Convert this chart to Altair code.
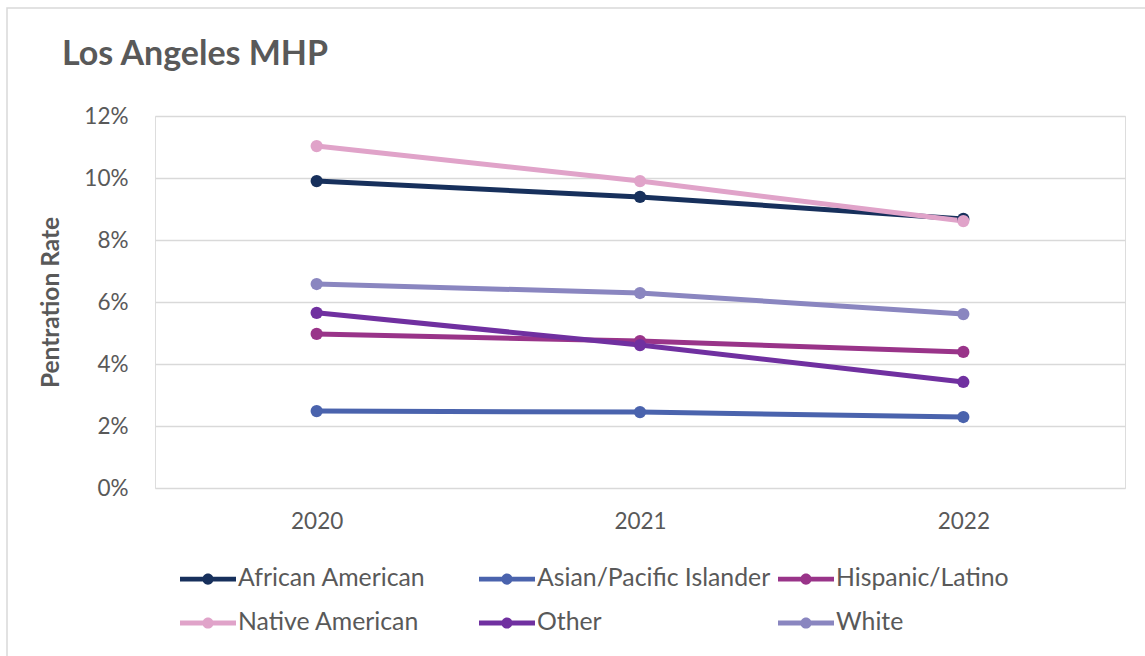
import altair as alt
import pandas as pd

# Penetration rate by race/ethnicity, Los Angeles MHP
years = ["2020", "2021", "2022"]
african_american = [0.0990, 0.0939, 0.0868]
asian_pacific_islander = [0.0248, 0.0245, 0.0229]
hispanic_latino = [0.0497, 0.0474, 0.0439]
native_american = [0.1103, 0.0990, 0.0861]
other = [0.0565, 0.0461, 0.0342]
white = [0.0658, 0.0629, 0.0561]

groups = ["African American", "Asian/Pacific Islander", "Hispanic/Latino",
          "Native American", "Other", "White"]
colors = ["#17305c", "#4a63ad", "#993489", "#e0a3c9", "#7030a0", "#8a86c0"]
series = [african_american, asian_pacific_islander, hispanic_latino,
          native_american, other, white]

rows = []
for g, vals in zip(groups, series):
    for y, v in zip(years, vals):
        rows.append({"Year": y, "Group": g, "Rate": v})
df = pd.DataFrame(rows)

FONT = "Lato"
TEXT = "#595959"
GRID = "#d9d9d9"

# legend glyph: a short thick line with a dot in the middle
glyph = ("M-1,-0.085L1,-0.085L1,0.085L-1,0.085Z "
         "M-0.2,0A0.2,0.2 0 1,1 0.2,0A0.2,0.2 0 1,1 -0.2,0Z")

color = alt.Color(
    "Group:N",
    scale=alt.Scale(domain=groups, range=colors),
    legend=alt.Legend(
        title=None,
        orient="none",
        legendX=25,
        legendY=435,
        direction="horizontal",
        columns=3,
        gridAlign="all",
        columnPadding=7,
        rowPadding=4,
        symbolType=glyph,
        symbolSize=3136,
        symbolStrokeWidth=0,
        labelOffset=2,
        labelFont=FONT,
        labelFontSize=24.8,
        labelColor=TEXT,
        labelLimit=400,
    ),
)

base = alt.Chart(df).encode(
    x=alt.X("Year:N", scale=alt.Scale(type="point", padding=0.5),
            axis=alt.Axis(title=None, labelAngle=0, labelPadding=22,
                          labelFont=FONT, labelFontSize=22.5, labelColor=TEXT,
                          domain=False, ticks=False, grid=False)),
    y=alt.Y("Rate:Q", scale=alt.Scale(domain=[0, 0.12], nice=False),
            axis=alt.Axis(title="Pentration Rate", format=".0%",
                          values=[0, 0.02, 0.04, 0.06, 0.08, 0.10, 0.12],
                          labelPadding=27, labelFont=FONT, labelFontSize=22.5,
                          labelColor=TEXT, titleFont=FONT, titleFontSize=24.5,
                          titleFontWeight="bold", titleColor=TEXT,
                          titlePadding=20, domain=False, ticks=False,
                          gridColor=GRID, gridWidth=1.5)),
    color=color,
)

lines = base.mark_line(strokeWidth=5, point=alt.OverlayMarkDef(
    filled=True, size=150, opacity=1))

# light outer frame around the whole chart
frame = alt.Chart(pd.DataFrame({"k": [0]})).mark_rect(
    fill=None, stroke=GRID, strokeWidth=1.5
).encode(x=alt.value(-148), x2=alt.value(1000), y=alt.value(-108),
         y2=alt.value(560))

chart = alt.layer(frame, lines).properties(
    width=970,
    height=372,
    padding={"left": 155, "top": 116, "right": 20, "bottom": 168},
    autosize=alt.AutoSizeParams(type="none"),
    title=alt.TitleParams("Los Angeles MHP", anchor="start", frame="group",
                          dx=-93, dy=102, fontSize=34, fontWeight="bold",
                          font=FONT, color=TEXT, offset=10,
                          baseline="alphabetic"),
).configure_view(stroke=None).configure(background="white")

chart.save("out.html", embed_options={"renderer": "svg", "actions": False})
